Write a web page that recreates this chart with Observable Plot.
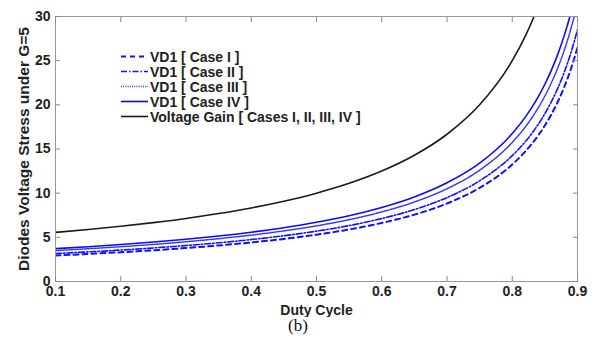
<!DOCTYPE html>
<html>
<head>
<meta charset="utf-8">
<script src="https://cdn.jsdelivr.net/npm/d3@7"></script>
<script src="https://cdn.jsdelivr.net/npm/@observablehq/plot@0.6"></script>
<style>
  html, body { margin: 0; padding: 0; background: #fff; }
  #wrap { position: relative; width: 596px; height: 339px; font-family: "Liberation Sans", Arial, sans-serif; }
  #legend { position: absolute; left: 121px; top: 49px; }
  .row { display: flex; align-items: center; height: 15px; }
  .row svg { width: 28px; height: 15px; display: block; }
  .row span { font-weight: bold; font-size: 14px; color: #222; margin-left: 1px; white-space: nowrap; }
  #caption { position: absolute; left: 0; width: 596px; top: 316px; text-align: center;
             font-family: "Liberation Serif", "Times New Roman", serif; font-size: 17px; color: #111; }
</style>
</head>
<body>
<div id="wrap">
  <div id="chart"></div>
  <div id="legend"></div>
  <div id="caption">(b)</div>
</div>
<script>
// ---- data ----
const duty = [0.1,0.15,0.2,0.25,0.3,0.35,0.4,0.45,0.5,0.55,0.6,0.65,0.7,0.75,0.8,0.82,0.83,0.84,0.85,0.86,0.87,0.88,0.89,0.9];
const vd1CaseI   = [2.94,3.12,3.31,3.53,3.79,4.08,4.42,4.82,5.30,5.89,6.63,7.57,8.83,10.60,13.25,14.72,15.59,16.56,17.67,18.93,20.38,22.08,24.09,26.50];
const vd1CaseII  = [3.17,3.35,3.56,3.80,4.07,4.38,4.75,5.18,5.70,6.33,7.13,8.14,9.50,11.40,14.25,15.83,16.76,17.81,19.00,20.36,21.92,23.75,25.91,28.50];
const vd1CaseIII = [3.50,3.71,3.94,4.20,4.50,4.85,5.25,5.73,6.30,7.00,7.88,9.00,10.50,12.60,15.75,17.50,18.53,19.69,21.00,22.50,24.23,26.25,28.64,31.50];
const vd1CaseIV  = [3.72,3.94,4.19,4.47,4.79,5.15,5.58,6.09,6.70,7.44,8.38,9.57,11.17,13.40,16.75,18.61,19.71,20.94,22.33,23.93,25.77,27.92,30.45,33.50];
const voltageGain = [5.56,5.88,6.25,6.67,7.14,7.69,8.33,9.09,10.0,11.11,12.5,14.29,16.67,20.0,25.0,27.78,29.41,31.25,33.33,35.71,38.46,41.67,45.45,50.0];

const seriesNames = ["VD1 [ Case I ]", "VD1 [ Case II ]", "VD1 [ Case III ]", "VD1 [ Case IV ]", "Voltage Gain [ Cases I, II, III, IV ]"];
const xTicks = [0.1,0.2,0.3,0.4,0.5,0.6,0.7,0.8,0.9];
const yTicks = [0,5,10,15,20,25,30];

// styles
const styles = [
  {stroke: "#1010ff", dash: "5,4", width: 2},
  {stroke: "#1010ff", dash: "6,2,1.5,2", width: 1.6},
  {stroke: "#3333ff", dash: "1,1.2", width: 1.5},
  {stroke: "#0a0aff", dash: null, width: 1.6},
  {stroke: "#1a1a1a", dash: null, width: 1.6}
];
const allValues = [vd1CaseI, vd1CaseII, vd1CaseIII, vd1CaseIV, voltageGain];

const lineMarks = allValues.map((vals, i) => {
  const rows = duty.map((d, j) => ({x: d, y: vals[j]}));
  return Plot.line(rows, {
    x: "x", y: "y", curve: "monotone-x", clip: true,
    stroke: styles[i].stroke, strokeWidth: styles[i].width,
    strokeDasharray: styles[i].dash ?? undefined
  });
});

const axisFont = {fontSize: 14, fontWeight: "bold", fill: "#222", stroke: "#888"};

const chart = Plot.plot({
  width: 596, height: 317,
  marginLeft: 55, marginRight: 19, marginTop: 16, marginBottom: 36,
  style: {fontFamily: "'Liberation Sans', Arial, sans-serif", background: "#fff"},
  x: {domain: [0.1, 0.9]},
  y: {domain: [0, 30]},
  marks: [
    ...lineMarks,
    Plot.frame({stroke: "#999"}),
    Plot.axisX(xTicks, {anchor: "bottom", tickSize: -5, tickPadding: 10, tickFormat: d => d.toFixed(1),
      ...axisFont, label: "Duty Cycle", labelAnchor: "center", labelOffset: 33, labelArrow: "none"}),
    Plot.axisX(xTicks, {anchor: "top", tickSize: -5, tickFormat: () => "", stroke: "#888", label: null}),
    Plot.axisY(yTicks, {anchor: "left", tickSize: -5, tickPadding: 10, tickFormat: d => String(d),
      ...axisFont, label: "Diodes Voltage Stress under G=5", labelAnchor: "center", labelOffset: 38, labelArrow: "none"}),
    Plot.axisY(yTicks, {anchor: "right", tickSize: -5, tickFormat: () => "", stroke: "#888", label: null})
  ]
});
document.getElementById("chart").appendChild(chart);

// bigger y-axis title to match the reference
chart.querySelectorAll("g[aria-label='y-axis label'] text").forEach(t => t.setAttribute("font-size", "15.5"));

// legend
const legend = document.getElementById("legend");
seriesNames.forEach((name, i) => {
  const row = document.createElement("div");
  row.className = "row";
  const s = styles[i];
  row.innerHTML = `<svg viewBox="0 0 28 15"><line x1="0" x2="27" y1="7.5" y2="7.5" stroke="${s.stroke}" stroke-width="${s.width}" ${s.dash ? `stroke-dasharray="${s.dash}"` : ""}/></svg><span>${name}</span>`;
  legend.appendChild(row);
});
</script>
</body>
</html>
